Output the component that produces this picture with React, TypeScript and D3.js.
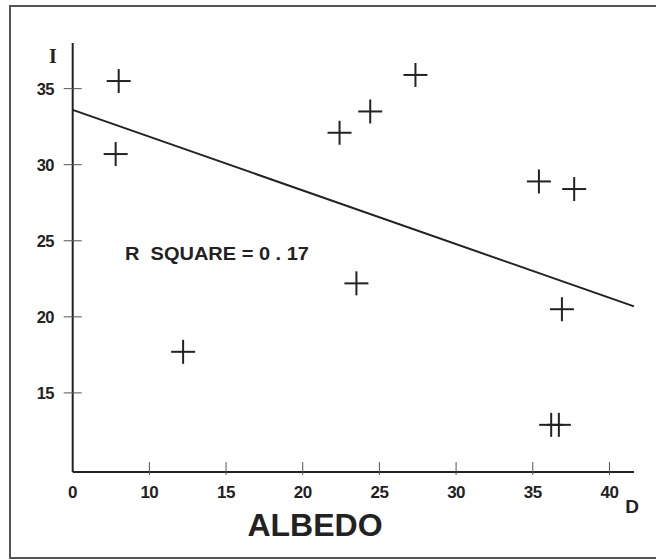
import React from "react";
import * as d3 from "d3";

// albedo (x) vs intensity (y)
const albedo = [8.0, 7.8, 12.2, 22.4, 24.4, 27.35, 23.5, 35.4, 37.7, 36.9, 36.2, 36.7];
const intensity = [35.5, 30.7, 17.7, 32.1, 33.5, 35.9, 22.2, 28.9, 28.4, 20.5, 12.9, 12.9];

const xTicks = [10, 15, 20, 25, 30, 35, 40];
const yTicks = [15, 20, 25, 30, 35];

// regression line: I = a + b * D
const fitIntercept = 35.37;
const fitSlope = -0.353;
const rSquare = "0 . 17";

const width = 656;
const height = 560;

export default function App() {
  // axis origin is labelled "0" though it sits at 5 on the linear scale
  const xScale = d3.scaleLinear().domain([5, 41.6]).range([72.7, 634]);
  const yScale = d3.scaleLinear().domain([9.8, 38]).range([472, 43]);

  const ink = "#222";
  const x0 = xScale(5);
  const y0 = yScale(9.8);

  const fitLine = d3
    .line<number>()
    .x((d) => xScale(d))
    .y((d) => yScale(fitIntercept + fitSlope * d));

  const cross = 12;

  return (
    <svg
      width={width}
      height={height}
      style={{ position: "absolute", left: 0, top: 0, background: "#fff" }}
      fontFamily="'Liberation Sans', Arial, sans-serif"
    >
      {/* frame */}
      <rect x={10} y={6} width={660} height={552} fill="none" stroke="#555" strokeWidth={2} />

      {/* axes */}
      <line x1={x0} y1={yScale(38)} x2={x0} y2={y0} stroke={ink} strokeWidth={2} />
      <line x1={x0} y1={y0} x2={xScale(41.6)} y2={y0} stroke={ink} strokeWidth={2} />

      {yTicks.map((t) => (
        <g key={"y" + t}>
          <line x1={x0 - 9} x2={x0 + 9} y1={yScale(t)} y2={yScale(t)} stroke="#555" strokeWidth={1} />
          <text x={54} y={yScale(t)} dy="0.36em" textAnchor="end" fontSize={16.5} fontWeight="bold" fill={ink}
            letterSpacing={-0.5}>
            {t}
          </text>
        </g>
      ))}
      <text x={53} y={56} dy="0.36em" textAnchor="middle" fontSize={20} fontWeight="bold" fill={ink}
        fontFamily="'Liberation Serif', serif">
        I
      </text>

      {xTicks.map((t) => (
        <g key={"x" + t}>
          <line x1={xScale(t)} x2={xScale(t)} y1={y0 - 10} y2={y0 + 3} stroke="#555" strokeWidth={1} />
          <text x={xScale(t)} y={492} dy="0.36em" textAnchor="middle" fontSize={17} fontWeight="bold" fill={ink}
            letterSpacing={-0.5}>
            {t}
          </text>
        </g>
      ))}
      <text x={x0} y={492} dy="0.36em" textAnchor="middle" fontSize={17} fontWeight="bold" fill={ink}>
        0
      </text>
      <text x={632} y={506} dy="0.36em" textAnchor="middle" fontSize={19} fill={ink} fontWeight="bold">
        D
      </text>

      <text x={315} y={524} dy="0.36em" textAnchor="middle" fontSize={32} fontWeight="bold" fill={ink}>
        ALBEDO
      </text>

      {/* regression */}
      <path d={fitLine([5, 41.6]) || ""} fill="none" stroke={ink} strokeWidth={2} />

      <text x={125} y={253} dy="0.36em" fontSize={18.5} fontWeight="bold" fill={ink}
        textLength={184} lengthAdjust="spacingAndGlyphs" style={{ whiteSpace: "pre" }}>
        {`R  SQUARE = ${rSquare}`}
      </text>

      {/* points */}
      {albedo.map((a, i) => {
        const cx = xScale(a);
        const cy = yScale(intensity[i]);
        return (
          <g key={i} stroke={ink} strokeWidth={2}>
            <line x1={cx - cross} x2={cx + cross} y1={cy} y2={cy} />
            <line x1={cx} x2={cx} y1={cy - cross} y2={cy + cross} />
          </g>
        );
      })}
    </svg>
  );
}
